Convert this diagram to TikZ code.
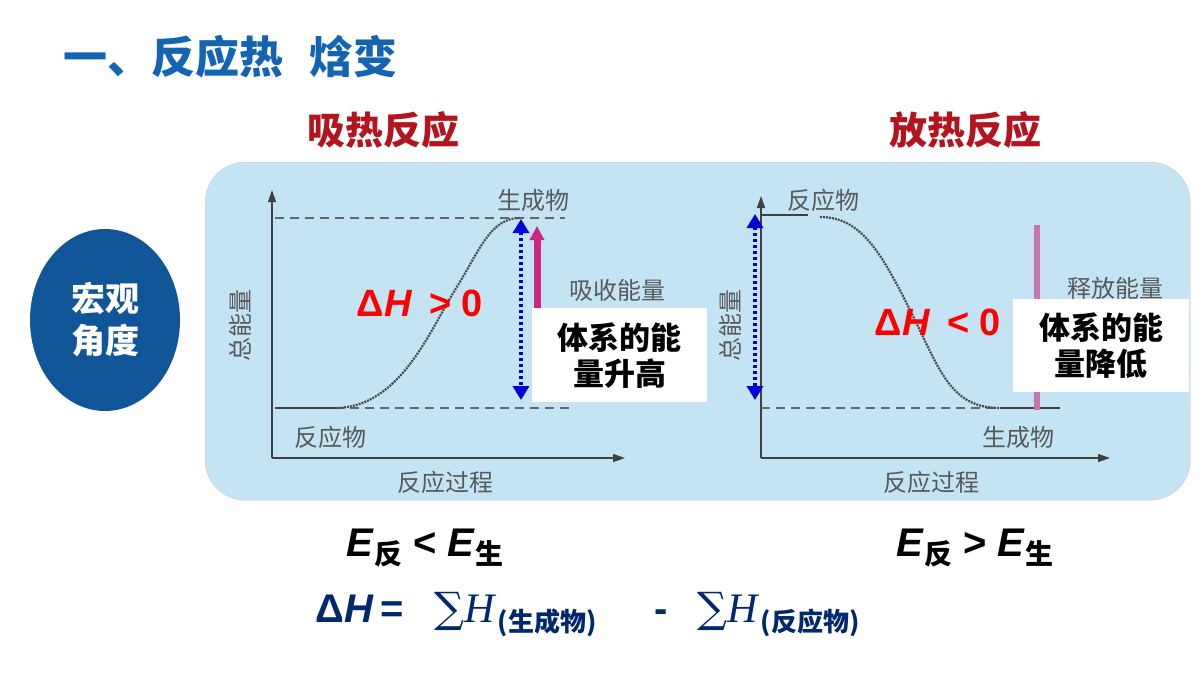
\documentclass[tikz,border=0pt]{standalone}
\usepackage{fontspec}
\setmainfont{Liberation Sans}
\newfontfamily\cjk{Noto Sans CJK SC}
\newfontfamily\dser{DejaVu Serif}
\newfontfamily\lser{Liberation Serif}
\usetikzlibrary{arrows.meta,shapes.geometric}
\definecolor{ttl}{RGB}{20,100,180}
\definecolor{dred}{RGB}{180,20,30}
\definecolor{panel}{RGB}{196,228,244}
\definecolor{navy}{RGB}{0,40,110}
\definecolor{mag}{RGB}{200,40,130}
\tikzset{
 lbl/.style={font=\cjk\fontsize{24}{24}\selectfont, text=black!65},
 ax/.style={line width=1.3pt, black!75, -{Triangle[length=12pt,width=8pt]}},
 dsh/.style={dash pattern=on 9pt off 6pt, line width=1.2pt, black!60},
 crv/.style={line width=2.2pt, black!70, dash pattern=on 2pt off 1pt},
 dh/.style={line width=3.5pt, blue!85!black, dash pattern=on 3pt off 3pt, {Triangle[length=14pt,width=16pt]}-{Triangle[length=14pt,width=16pt]}},
 box/.style={fill=white, font=\cjk\bfseries\fontsize{31}{36}\selectfont, align=center, inner sep=0pt},
 dH/.style={font=\bfseries\fontsize{38}{38}\selectfont, text=red},
 sub/.style={font=\cjk\bfseries\fontsize{26}{26}\selectfont, text=navy, anchor=base west, inner xsep=1pt},
}
\begin{document}
\begin{tikzpicture}[x=1pt,y=-1pt]
\useasboundingbox (0,0) rectangle (1200,675);
\fill[white] (0,0) rectangle (1200,675);
\node[anchor=west, text=ttl, font=\cjk\bfseries\fontsize{44}{44}\selectfont] (title) at (60,57) {一、反应热\hspace{0.6em}焓变};
\node[text=dred, font=\cjk\bfseries\fontsize{38}{38}\selectfont] (endo) at (383,130) {吸热反应};
\node[text=dred, font=\cjk\bfseries\fontsize{38}{38}\selectfont] (exo) at (965,130) {放热反应};
\node[draw=black!20, fill=panel, rounded corners=40pt, minimum width=985pt, minimum height=338pt, anchor=north west] (panel) at (205,162) {};
\node[ellipse, fill=ttl!85!black, minimum width=150pt, minimum height=182pt, text=white, font=\cjk\bfseries\fontsize{34}{42}\selectfont, align=center] (macro) at (105,320) {宏观\\角度};
% left chart
\coordinate (lo) at (272,458);
\draw[ax] (lo) -- (272,190) coordinate (ly);
\draw[ax] (lo) -- (625,458) coordinate (lx);
\draw[dsh] (275,218) coordinate (lt1) -- (565,218) coordinate (lt2);
\draw[dsh] (335,408) coordinate (lb2) -- (575,408) coordinate (lb3);
\draw[line width=1.5pt, black!75] (275,408) coordinate (lb1) -- (lb2);
\draw[crv] (lb2) .. controls (400,408) and (430,330) .. (455,290) .. controls (480,250) and (490,218) .. (520,218) coordinate (lt3);
\node[lbl] (lp) at (533,200) {生成物};
\node[lbl] (lr) at (330,437) {反应物};
\node[lbl] (lproc) at (445,482) {反应过程};
\node[lbl, rotate=90] (le) at (240,325) {总能量};
\node[lbl] (labs) at (617,290) {吸收能量};
\draw[mag, line width=7pt, -{Triangle[length=14pt,width=14pt]}] (537,400) coordinate (m1) -- (537,226) coordinate (m2);
\draw[dh] (521,219) coordinate (b1) -- (521,400) coordinate (b2);
\node[box, minimum width=175pt, minimum height=94pt, anchor=north west] (lbox) at (532,308) {体系的能\\量升高};
\node[dH] (ldh) at (420,303) {Δ\textit{H}\, > 0};
% right chart
\coordinate (ro) at (761,458);
\draw[ax] (ro) -- (761,196) coordinate (ry);
\draw[ax] (ro) -- (1110,458) coordinate (rx);
\draw[line width=1.5pt, black!75] (761,215) coordinate (rt1) -- (808,215) coordinate (rt2);
\draw[dsh] (761,408) coordinate (rb1) -- (1060,408) coordinate (rb2);
\draw[crv] (820,217) .. controls (860,217) and (880,250) .. (910,310) .. controls (940,370) and (950,408) .. (1000,408) coordinate (rb3);
\draw[line width=1.5pt, black!75] (rb3) -- (1060,408);
\node[lbl] (rr) at (823,200) {反应物};
\node[lbl] (rp) at (1018,437) {生成物};
\node[lbl] (rproc) at (931,482) {反应过程};
\node[lbl, rotate=90] (re) at (730,325) {总能量};
\node[lbl] (rrel) at (1115,288) {释放能量};
\fill[mag!60!panel] (1034,225) coordinate (rm1) rectangle (1040,410) coordinate (rm2);
\draw[dh] (755,214) coordinate (c1) -- (755,400) coordinate (c2);
\node[box, minimum width=176pt, minimum height=93pt, anchor=north west] (rbox) at (1013,299) {体系的能\\量降低};
\node[dH] (rdh) at (938,322) {Δ\textit{H}\, < 0};
% formulas
\node[font=\bfseries\fontsize{40}{40}\selectfont] (f1) at (425,548) {\textit{E}\raisebox{-8pt}{\cjk\fontsize{28}{28}\selectfont 反} < \textit{E}\raisebox{-8pt}{\cjk\fontsize{28}{28}\selectfont 生}};
\node[font=\bfseries\fontsize{40}{40}\selectfont] (f2) at (975,548) {\textit{E}\raisebox{-8pt}{\cjk\fontsize{28}{28}\selectfont 反} > \textit{E}\raisebox{-8pt}{\cjk\fontsize{28}{28}\selectfont 生}};
\node[text=navy, font=\bfseries\fontsize{40}{40}\selectfont, anchor=base west] (f3) at (312,622) {Δ\textit{H}\,=};
\node[text=navy, font=\lser\fontsize{42}{42}\selectfont, anchor=base west, inner xsep=0pt] (s1) at (434,622) {{\dser ∑}\textit{H}};
\node[sub] (p1) at (s1.base east) {\raisebox{-9pt}{(生成物)}};
\node[text=navy, font=\bfseries\fontsize{40}{40}\selectfont, anchor=base] (minus) at (661,622) {-};
\node[text=navy, font=\lser\fontsize{42}{42}\selectfont, anchor=base west, inner xsep=0pt] (s2) at (697,622) {{\dser ∑}\textit{H}};
\node[sub] (p2) at (s2.base east) {\raisebox{-9pt}{(反应物)}};
\end{tikzpicture}
\end{document}
